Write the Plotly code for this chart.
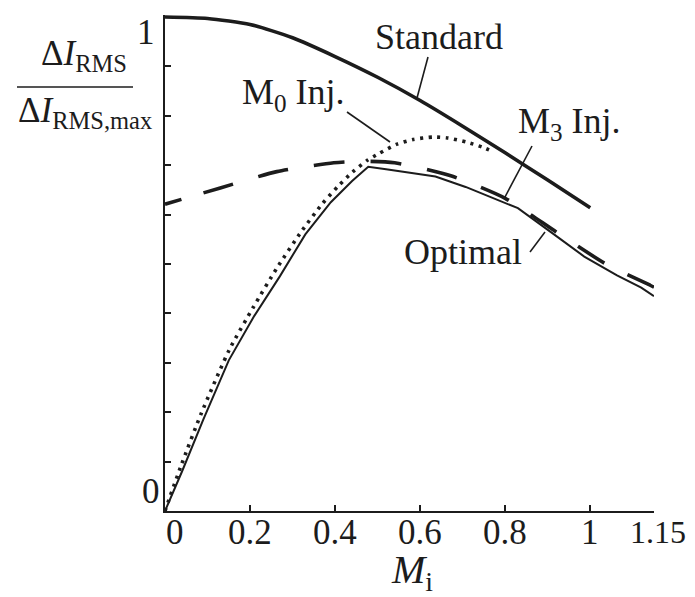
import plotly.graph_objects as go

# ---------------- data ----------------
standard_x = [0, 0.1, 0.2, 0.3, 0.4, 0.5, 0.6, 0.7, 0.8, 0.9, 1.0]
standard_y = [1.0, 0.997, 0.985, 0.958, 0.92, 0.878, 0.831, 0.779, 0.725, 0.67, 0.614]

m0_x = [0, 0.037, 0.086, 0.151, 0.208, 0.264, 0.321, 0.37, 0.41, 0.441, 0.476,
        0.504, 0.544, 0.583, 0.63, 0.665, 0.708, 0.745, 0.767]
m0_y = [0, 0.09, 0.199, 0.326, 0.413, 0.493, 0.566, 0.622, 0.66, 0.686, 0.71,
        0.724, 0.742, 0.752, 0.757, 0.755, 0.747, 0.737, 0.729]

m3_x = [0, 0.13, 0.263, 0.397, 0.47, 0.54, 0.674, 0.8, 0.92, 1.035, 1.141, 1.15]
m3_y = [0.621, 0.654, 0.687, 0.705, 0.708, 0.705, 0.678, 0.633, 0.565, 0.501, 0.457, 0.453]

optimal_x = [0, 0.04, 0.09, 0.15, 0.21, 0.27, 0.33, 0.39, 0.44, 0.478,
             0.52, 0.58, 0.636, 0.707, 0.754, 0.83, 0.91, 0.986, 1.063, 1.12, 1.15]
optimal_y = [0, 0.08, 0.185, 0.305, 0.395, 0.475, 0.56, 0.625, 0.668, 0.697,
             0.692, 0.684, 0.677, 0.656, 0.639, 0.613, 0.563, 0.515, 0.477, 0.452, 0.435]

x_tick_vals = [0.2, 0.4, 0.6, 0.8, 1.0]
y_tick_vals = [0.1, 0.2, 0.3, 0.4, 0.5, 0.6, 0.7, 0.8, 0.9]
x_label_vals = [0, 0.2, 0.4, 0.6, 0.8, 1.0, 1.15]
x_label_text = ["0", "0.2", "0.4", "0.6", "0.8", "1", "1.15"]
y_label_vals = [0, 1]
y_label_text = ["0", "1"]

series_names = ["Standard", "M<sub>0</sub> Inj.", "M<sub>3</sub> Inj.", "Optimal"]

# ---------------- layout geometry ----------------
PAGE_OFF = 8                 # default body margin of the html page
SHOT_W, SHOT_H = 695, 597
W, H = SHOT_W - PAGE_OFF, SHOT_H - PAGE_OFF
X0, Y0 = 165, 511            # screenshot pixel of the origin
PLOT_W, PLOT_H = 489, 496
L = X0 - PAGE_OFF
T = Y0 - PLOT_H - PAGE_OFF
R = W - L - PLOT_W
B = H - T - PLOT_H
X_MAX = 1.15
Y_SCALE = 494.0
Y_MAX = PLOT_H / Y_SCALE
INK = "#1c1c1c"
FONT = "Liberation Serif"


def px_paper(px):
    return (px - X0) / PLOT_W


def py_paper(py):
    return (Y0 - py) / PLOT_H


fig = go.Figure()
fig.add_trace(go.Scatter(x=standard_x, y=standard_y, mode="lines", name="Standard",
                         line=dict(color=INK, width=3.6, shape="spline", smoothing=0.6)))
fig.add_trace(go.Scatter(x=m3_x, y=m3_y, mode="lines", name="M3 Inj.",
                         line=dict(color=INK, width=3.6, shape="spline", smoothing=0.6,
                                   dash="17px,23px" + ",31px,26px" * 12)))
fig.add_trace(go.Scatter(x=m0_x, y=m0_y, mode="lines", name="M0 Inj.",
                         line=dict(color=INK, width=3.6, shape="spline", smoothing=0.6,
                                   dash="3px,5.5px")))
fig.add_trace(go.Scatter(x=optimal_x, y=optimal_y, mode="lines", name="Optimal",
                         line=dict(color=INK, width=2.0)))

shapes = []
# leader lines for the curve labels (screenshot pixel positions)
leaders = [((428, 57), (417, 98)),
           ((347, 112), (390, 142)),
           ((532, 146), (505, 197)),
           ((530, 252), (545, 232))]
for (x0, y0), (x1, y1) in leaders:
    shapes.append(dict(type="line", xref="paper", yref="paper",
                       x0=px_paper(x0), y0=py_paper(y0), x1=px_paper(x1), y1=py_paper(y1),
                       line=dict(color=INK, width=1.6)))
# fraction bar of the y title
shapes.append(dict(type="line", xref="paper", yref="paper",
                   x0=px_paper(17), y0=py_paper(87), x1=px_paper(133), y1=py_paper(87),
                   line=dict(color=INK, width=1.6)))

annotations = []
label_pos = [(439, 37), (293, 95), (569, 123), (463, 252)]
for text, (cx, cy) in zip(series_names, label_pos):
    annotations.append(dict(text=text, xref="paper", yref="paper",
                            x=px_paper(cx), y=py_paper(cy), xanchor="center", yanchor="middle",
                            showarrow=False, font=dict(family=FONT, size=36, color=INK)))

# x tick labels
x_shift = {0: 10, 1.15: 4}
x_size = {1.15: 32}
for v, t in zip(x_label_vals, x_label_text):
    annotations.append(dict(text=t, xref="x", yref="paper", x=v, y=py_paper(532),
                            xanchor="center", yanchor="middle", xshift=x_shift.get(v, 0),
                            showarrow=False,
                            font=dict(family=FONT, size=x_size.get(v, 35), color=INK)))
# y tick labels
y_pix = {0: (151, 491), 1: (146, 32)}
for v, t in zip(y_label_vals, y_label_text):
    cx, cy = y_pix[v]
    annotations.append(dict(text=t, xref="paper", yref="paper", x=px_paper(cx), y=py_paper(cy),
                            xanchor="center", yanchor="middle",
                            showarrow=False, font=dict(family=FONT, size=35, color=INK)))

# axis titles
annotations.append(dict(text="Δ<i>I</i><sub>RMS</sub>", xref="paper", yref="paper",
                        x=px_paper(84), y=py_paper(55), xanchor="center", yanchor="middle",
                        showarrow=False, font=dict(family=FONT, size=35, color=INK)))
annotations.append(dict(text="Δ<i>I</i><sub>RMS,max</sub>", xref="paper", yref="paper",
                        x=px_paper(85), y=py_paper(112), xanchor="center", yanchor="middle",
                        showarrow=False, font=dict(family=FONT, size=35, color=INK)))
annotations.append(dict(text="<i>M</i><sub>i</sub>", xref="paper", yref="paper",
                        x=px_paper(412), y=py_paper(572), xanchor="center", yanchor="middle",
                        showarrow=False, font=dict(family=FONT, size=40, color=INK)))

fig.update_layout(
    width=W, height=H,
    margin=dict(l=L, r=R, t=T, b=B),
    paper_bgcolor="white", plot_bgcolor="white",
    showlegend=False,
    shapes=shapes,
    annotations=annotations,
    xaxis=dict(range=[0, X_MAX], showgrid=False, zeroline=False, showline=True,
               linecolor=INK, linewidth=1.8, ticks="inside", ticklen=6, tickwidth=1.5,
               tickcolor=INK, tickvals=x_tick_vals, showticklabels=False, fixedrange=True),
    yaxis=dict(range=[0, Y_MAX], showgrid=False, zeroline=False, showline=True,
               linecolor=INK, linewidth=1.8, ticks="inside", ticklen=6, tickwidth=1.5,
               tickcolor=INK, tickvals=y_tick_vals, showticklabels=False, fixedrange=True),
)

fig.write_html("out.html")
